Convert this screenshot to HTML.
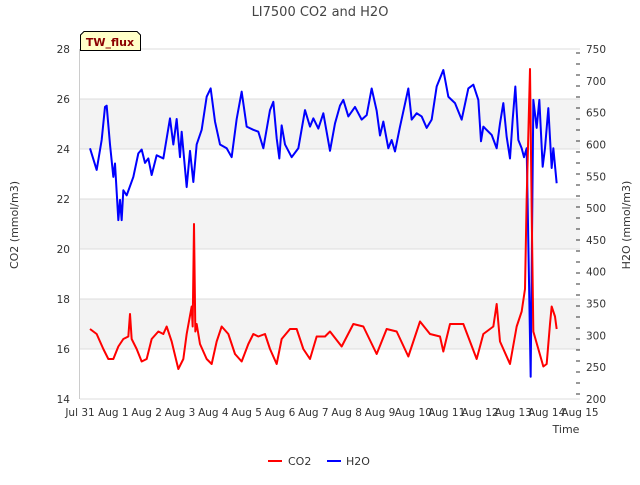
<!DOCTYPE html>
<html><head><meta charset="utf-8"><style>
body{margin:0;background:#fff;font-family:"Liberation Sans","DejaVu Sans",sans-serif}
svg text{font-family:"DejaVu Sans","Liberation Sans",sans-serif}
</style></head><body>
<svg id="c" width="640" height="480" xmlns="http://www.w3.org/2000/svg">
<text x="320" y="16" text-anchor="middle" font-size="13" fill="#444">LI7500 CO2 and H2O</text>
<g id="bands"></g><g id="grid"></g><g id="axes"></g><g id="series"></g>
<g>
<path d="M80.5,50.5 V35 L84,31.5 H137 L140.5,35 V50.5 Z" fill="#ffffc8" stroke="#000" stroke-width="1"/>
<text x="110" y="46" text-anchor="middle" font-size="11" font-weight="bold" fill="#8b0000">TW_flux</text>
</g>
<text x="18" y="225" transform="rotate(-90 18 225)" text-anchor="middle" font-size="11" fill="#333">CO2 (mmol/m3)</text>
<text x="630" y="225" transform="rotate(-90 630 225)" text-anchor="middle" font-size="11" fill="#333">H2O (mmol/m3)</text>
<text x="566" y="433" text-anchor="middle" font-size="11" fill="#333">Time</text>
<g>
<g><line x1="268" y1="461" x2="282" y2="461" stroke="#f00" stroke-width="2"/><text x="288" y="465" font-size="11" fill="#333">CO2</text></g>
<g><line x1="327" y1="461" x2="341" y2="461" stroke="#00f" stroke-width="2"/><text x="346" y="465" font-size="11" fill="#333">H2O</text></g>
</g>
</svg>
<script>
const xTickLabels=["Jul 31","Aug 1","Aug 2","Aug 3","Aug 4","Aug 5","Aug 6","Aug 7","Aug 8","Aug 9","Aug 10","Aug 11","Aug 12","Aug 13","Aug 14","Aug 15"];
const leftTicks=[14,16,18,20,22,24,26,28];
const rightTicks=[200,250,300,350,400,450,500,550,600,650,700,750];
const co2Time=[0.3,0.5,0.7,0.85,1.0,1.15,1.3,1.45,1.5,1.55,1.7,1.85,2.0,2.15,2.35,2.5,2.6,2.75,2.95,3.1,3.2,3.35,3.38,3.42,3.46,3.5,3.6,3.8,3.95,4.1,4.25,4.45,4.65,4.85,5.05,5.2,5.35,5.55,5.7,5.9,6.05,6.3,6.5,6.7,6.9,7.1,7.35,7.5,7.85,8.2,8.5,8.9,9.2,9.5,9.85,10.2,10.5,10.8,10.9,11.1,11.5,11.9,12.1,12.4,12.5,12.6,12.9,13.1,13.25,13.35,13.4,13.5,13.55,13.6,13.75,13.9,14.0,14.1,14.15,14.25,14.3];
const co2Vals=[16.8,16.6,16.0,15.6,15.6,16.1,16.4,16.5,17.4,16.4,16.0,15.5,15.6,16.4,16.7,16.6,16.9,16.3,15.2,15.6,16.6,17.7,16.9,21.0,16.7,17.0,16.2,15.6,15.4,16.3,16.9,16.6,15.8,15.5,16.2,16.6,16.5,16.6,16.0,15.4,16.4,16.8,16.8,16.0,15.6,16.5,16.5,16.7,16.1,17.0,16.9,15.8,16.8,16.7,15.7,17.1,16.6,16.5,15.9,17.0,17.0,15.6,16.6,16.9,17.8,16.3,15.4,16.9,17.5,18.4,22.0,27.2,21.6,16.7,16.0,15.3,15.4,17.0,17.7,17.3,16.8];
const h2oTime=[0.3,0.5,0.65,0.75,0.8,0.9,1.0,1.05,1.15,1.2,1.25,1.3,1.4,1.6,1.75,1.85,1.95,2.05,2.15,2.3,2.5,2.7,2.8,2.9,3.0,3.05,3.2,3.3,3.4,3.5,3.65,3.8,3.92,4.05,4.2,4.4,4.55,4.7,4.85,5.0,5.2,5.35,5.5,5.7,5.8,5.9,5.98,6.05,6.15,6.35,6.55,6.75,6.9,7.0,7.15,7.3,7.5,7.65,7.8,7.9,8.05,8.25,8.45,8.6,8.75,8.9,9.0,9.1,9.25,9.35,9.45,9.6,9.85,9.95,10.1,10.25,10.4,10.55,10.7,10.9,11.05,11.25,11.45,11.65,11.8,11.95,12.03,12.1,12.35,12.5,12.6,12.7,12.8,12.9,12.98,13.06,13.15,13.25,13.32,13.4,13.52,13.6,13.7,13.78,13.88,13.95,14.05,14.15,14.2,14.3];
const h2oVals=[594,560,607,659,661,600,549,570,481,513,481,528,520,549,586,592,571,578,552,583,578,641,600,640,580,620,533,590,541,600,623,675,688,636,600,594,580,640,683,628,623,620,594,654,667,610,578,630,600,580,594,654,628,641,625,649,590,633,661,670,644,659,639,646,688,653,614,636,594,607,589,628,688,639,649,644,626,639,691,717,675,665,639,688,694,670,605,628,615,594,633,665,612,578,639,691,607,594,580,594,235,670,626,670,565,594,657,563,594,539];
const X0=80,X1=580,Y0=399,Y1=49;
const xs=t=>X0+(X1-X0)*t/15;
const yL=v=>Y0-(v-14)/(28-14)*(Y0-Y1);
const yR=v=>Y0-(v-200)/(750-200)*(Y0-Y1);
const NS="http://www.w3.org/2000/svg";
function mk(tag,attrs,parent){const e=document.createElementNS(NS,tag);for(const k in attrs)e.setAttribute(k,attrs[k]);document.getElementById(parent).appendChild(e);return e;}
[[16,18],[20,22],[24,26]].forEach(b=>{const r=mk('rect',{x:X0,y:yL(b[1]),width:X1-X0,height:yL(b[0])-yL(b[1]),fill:'#f3f3f3'},'bands');

});
leftTicks.forEach(v=>{const l=mk('line',{x1:X0,x2:X1,y1:yL(v),y2:yL(v),stroke:'#dcdcdc','stroke-width':1},'grid');


const t=mk('text',{x:X0-10,y:yL(v)+4,'text-anchor':'end','font-size':10.5,fill:'#333'},'axes');t.textContent=v;

});
mk('line',{x1:X0-0.5,x2:X0-0.5,y1:Y1,y2:Y0,stroke:'#ccc'},'axes');
rightTicks.forEach(v=>{const t=mk('text',{x:586,y:yR(v)+4,'font-size':10.5,fill:'#333'},'axes');t.textContent=v;

});
for(let y=Y1+4;y<Y0;y+=11){mk('line',{x1:X1-4,x2:X1,y1:y,y2:y,stroke:'#333'},'axes');}
xTickLabels.forEach((s,i)=>{const t=mk('text',{x:xs(i),y:416,'text-anchor':'middle','font-size':10.5,fill:'#333'},'axes');t.textContent=s;

});
const p1=mk('polyline',{points:h2oTime.map((t,i)=>xs(t)+','+yR(h2oVals[i])).join(' '),fill:'none',stroke:'#00f','stroke-width':2,'stroke-linejoin':'round'},'series');


const p2=mk('polyline',{points:co2Time.map((t,i)=>xs(t)+','+yL(co2Vals[i])).join(' '),fill:'none',stroke:'#f00','stroke-width':2,'stroke-linejoin':'round'},'series');


</script>
</body></html>
